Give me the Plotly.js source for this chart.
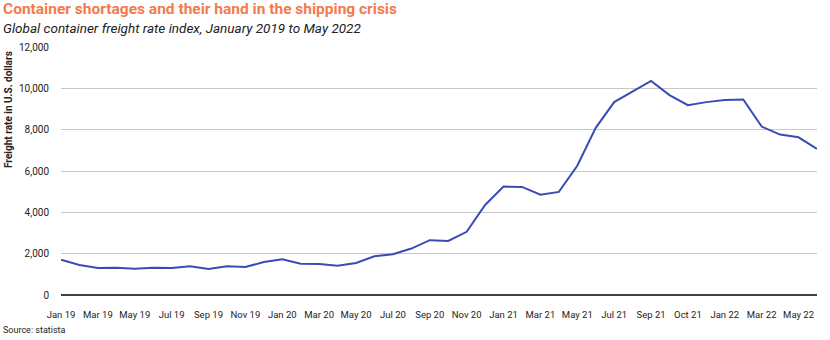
<!DOCTYPE html>
<html><head><meta charset="utf-8">
<script src="https://cdn.plot.ly/plotly-3.0.1.min.js"></script>
<style>html,body{margin:0;padding:0;background:#fff}#chart{width:830px;height:340px}</style>
</head><body><div id="chart"></div>
<script>
const categories = ["Jan 19","Feb 19","Mar 19","Apr 19","May 19","Jun 19","Jul 19","Aug 19","Sep 19","Oct 19","Nov 19","Dec 19",
  "Jan 20","Feb 20","Mar 20","Apr 20","May 20","Jun 20","Jul 20","Aug 20","Sep 20","Oct 20","Nov 20","Dec 20",
  "Jan 21","Feb 21","Mar 21","Apr 21","May 21","Jun 21","Jul 21","Aug 21","Sep 21","Sep 21b","Oct 21","Nov 21",
  "Jan 22","Feb 22","Mar 22","Apr 22","May 22","Jun 22"];
const freightRate = [1713,1450,1304,1324,1275,1324,1304,1387,1255,1387,1353,1596,
  1727,1518,1499,1421,1547,1873,1971,2248,2652,2618,3056,4355,
  5246,5231,4856,4988,6253,8087,9333,9839,10355,9674,9187,9333,
  9430,9464,8151,7761,7630,7066];
const tickLabels = ["Jan 19","Mar 19","May 19","Jul 19","Sep 19","Nov 19","Jan 20","Mar 20","May 20","Jul 20","Sep 20",
  "Nov 20","Jan 21","Mar 21","May 21","Jul 21","Sep 21","Oct 21","Jan 22","Mar 22","May 22"];
const yTicks = [0,2000,4000,6000,8000,10000,12000];

const tickVals = categories.filter((c,i)=>i%2===0);
const FONT = "Roboto, 'DejaVu Sans', sans-serif";

Plotly.newPlot('chart', [{
  type:'scatter', mode:'lines', x:categories, y:freightRate,
  line:{color:'#3a4cb3', width:2}, hoverinfo:'skip'
}], {
  width:830, height:340,
  margin:{l:61, r:13, t:47, b:45},
  paper_bgcolor:'#fff', plot_bgcolor:'#fff',
  showlegend:false,
  font:{family:FONT, color:'#222', size:10},
  xaxis:{type:'category', tickmode:'array', tickvals:tickVals, ticktext:tickLabels,
    showgrid:false, ticks:'', showline:false, zeroline:false, ticklabelstandoff:12,
    tickfont:{size:9.5, color:'#222'}, automargin:false},
  yaxis:{range:[0,12000], tickmode:'array', tickvals:yTicks, tickformat:',d',
    showgrid:true, gridcolor:'#c8c8c8', gridwidth:1, zeroline:true, zerolinecolor:'#404040', zerolinewidth:2.5,
    ticks:'', ticklabelstandoff:11, tickfont:{size:10, color:'#222'}, automargin:false, fixedrange:true},
  annotations:[
    {text:'<b>Container shortages and their hand in the shipping crisis</b>', xref:'paper', yref:'paper', x:-61/756, y:1+47/247,
      xanchor:'left', yanchor:'top', yshift:2, showarrow:false, font:{family:FONT, size:15.5, color:'#f47a4c'}, xshift:1},
    {text:'<i>Global container freight rate index, January 2019 to May 2022</i>', xref:'paper', yref:'paper', x:-61/756, y:1+47/247,
      xanchor:'left', yanchor:'top', yshift:-18, xshift:1, showarrow:false, font:{family:FONT, size:13.5, color:'#222'}},
    {text:'<b>Freight rate in U.S. dollars</b>', xref:'paper', yref:'paper', x:-61/756, y:1, xanchor:'left', yanchor:'top',
      textangle:-90, xshift:1, yshift:-2, showarrow:false, font:{family:FONT, size:10, color:'#222'}},
    {text:'Source: statista', xref:'paper', yref:'paper', x:-61/756, y:-45/247, xanchor:'left', yanchor:'bottom',
      xshift:1, yshift:3, showarrow:false, font:{family:FONT, size:9, color:'#222'}}
  ]
}, {displayModeBar:false, staticPlot:true});
</script></body></html>
